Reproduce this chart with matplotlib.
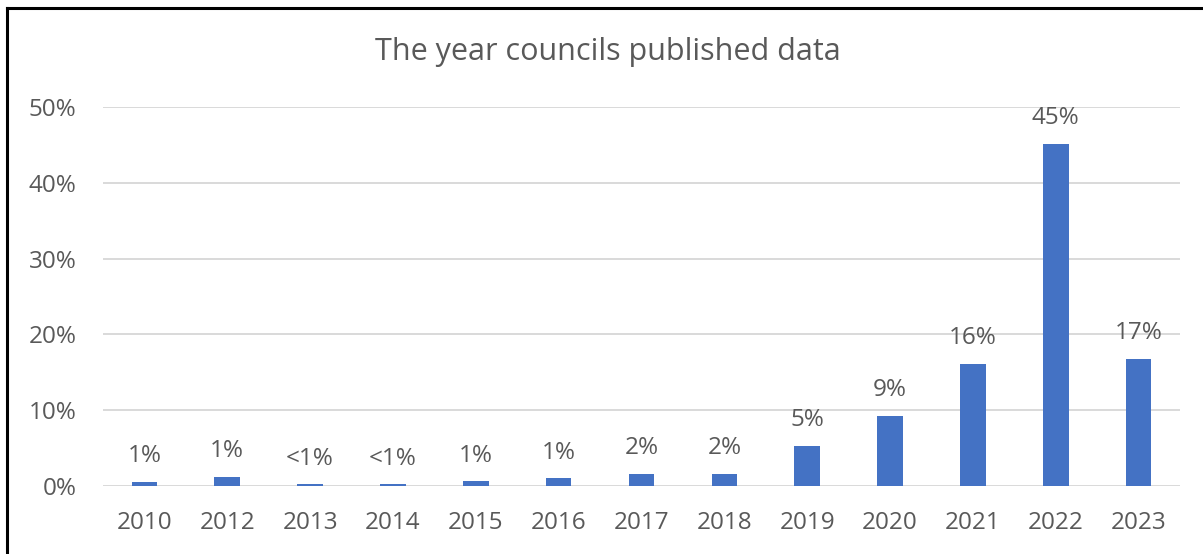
import matplotlib
matplotlib.use("Agg")
import matplotlib.pyplot as plt
from matplotlib.ticker import FuncFormatter
from matplotlib.lines import Line2D

years = ["2010", "2012", "2013", "2014", "2015", "2016", "2017", "2018",
         "2019", "2020", "2021", "2022", "2023"]
values = [0.5, 1.2, 0.2, 0.2, 0.6, 1.0, 1.6, 1.6, 5.3, 9.3, 16.1, 45.1, 16.8]
labels = ["1%", "1%", "<1%", "<1%", "1%", "1%", "2%", "2%", "5%", "9%",
          "16%", "45%", "17%"]
yticks = [0, 10, 20, 30, 40, 50]

TXT = "#595959"
plt.rcParams['font.family'] = ['Open Sans', 'DejaVu Sans']

fig = plt.figure(figsize=(12.03, 5.54), dpi=100)
ax = fig.add_axes([103/1203, 1-486/554, (1180-103)/1203, (486-107)/554])

x = list(range(len(years)))
ax.bar(x, values, width=0.31, color="#4472c4", zorder=3)
for xi, v, lab in zip(x, values, labels):
    ax.annotate(lab, (xi, v), xytext=(0, 10), textcoords="offset points",
                ha="center", va="bottom", fontsize=17.5, color=TXT)

ax.set_xlim(-0.5, len(years) - 0.5)
ax.set_ylim(0, 50)
ax.set_yticks(yticks)
ax.yaxis.set_major_formatter(FuncFormatter(lambda v, p: f"{int(v)}%"))
ax.set_xticks(x)
ax.set_xticklabels(years)
ax.tick_params(axis="both", length=0, labelsize=17.5, colors=TXT)
ax.tick_params(axis="x", pad=18)
ax.tick_params(axis="y", pad=19)
ax.grid(axis="y", color="#d9d9d9", linewidth=1.4, zorder=0)
for s in ax.spines.values():
    s.set_visible(False)

fig.text(608/1203, 1-52/554, "The year councils published data",
         ha="center", va="center", fontsize=22, color=TXT)

# chart border (top and left visible)
fig.add_artist(Line2D([7/1203, 1], [1-8/554, 1-8/554], color="black", linewidth=2.2,
                      transform=fig.transFigure))
fig.add_artist(Line2D([7/1203, 7/1203], [0, 1-8/554], color="black", linewidth=2.2,
                      transform=fig.transFigure))

fig.savefig("out.png", dpi=100)
